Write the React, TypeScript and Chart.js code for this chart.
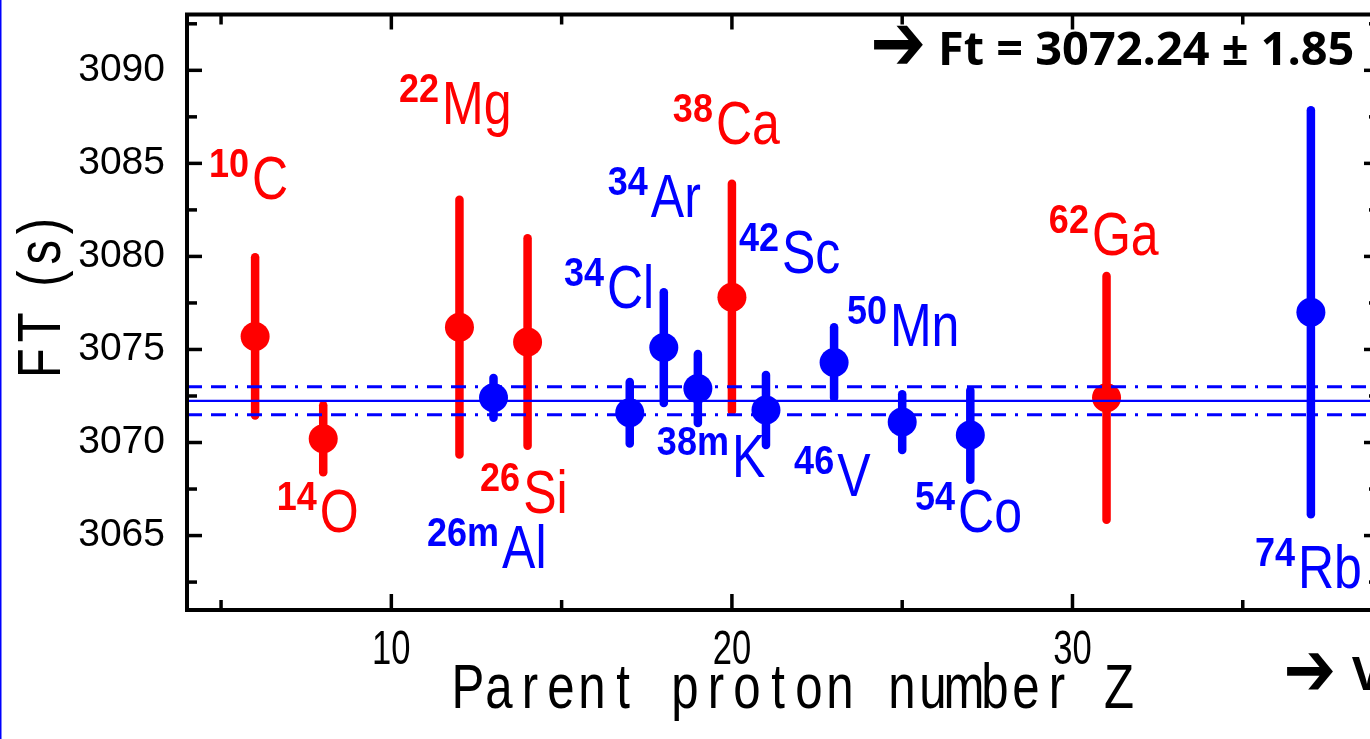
import React, { useEffect, useRef } from 'react';
import { Chart, registerables } from 'chart.js';

Chart.register(...registerables);

// ---------- axes ----------
const X_MIN = 4;
const X_MAX = 39;
const Y_MIN = 3061;
const Y_MAX = 3093;
const xMajorTicks = [10, 20, 30];
const xMinorTicks = [5, 15, 25, 35];
const yMajorTicks = [3065, 3070, 3075, 3080, 3085, 3090];
const yMinorTicks = [3062.5, 3067.5, 3072.5, 3077.5, 3082.5, 3087.5, 3092.5];

// ---------- red series ----------
const redZ = [6, 8, 12, 14, 20, 31];
const redFt = [3075.7, 3070.2, 3076.2, 3075.4, 3077.8, 3072.4];
const redErr = [4.25, 1.8, 6.85, 5.57, 6.1, 6.55];
const redMass = ['10', '14', '22', '26', '38', '62'];
const redSymbol = ['C', 'O', 'Mg', 'Si', 'Ca', 'Ga'];
const redLabelZ = [5.91, 7.9, 11.49, 13.87, 19.53, 30.57];
const redLabelFt = [3083.1, 3065.17, 3087.11, 3066.19, 3086.04, 3080.1];

// ---------- blue series ----------
const blueZ = [13, 17, 18, 19, 21, 23, 25, 27, 37];
const blueFt = [3072.4, 3071.6, 3075.1, 3072.9, 3071.75, 3074.3, 3071.1, 3070.4, 3077.0];
const blueErr = [1.07, 1.65, 2.97, 1.85, 1.88, 1.9, 1.5, 2.4, 10.86];
const blueMass = ['26m', '34', '34', '38m', '42', '46', '50', '54', '74'];
const blueSymbol = ['Al', 'Cl', 'Ar', 'K', 'Sc', 'V', 'Mn', 'Co', 'Rb'];
const blueLabelZ = [13.25, 16.33, 17.62, 20.0, 21.47, 23.09, 24.64, 26.64, 36.62];
const blueLabelFt = [3063.25, 3077.21, 3082.14, 3068.17, 3079.09, 3067.15, 3075.18, 3065.17, 3062.18];

// ---------- mean ----------
const meanFt = 3072.24;
const meanBand = 0.75;

// ---------- texts ----------
const resultText = 'Ft = 3072.24 ± 1.85';
const arrowText = '➔';
const cornerText = 'V';
const xTitle = 'Parent proton number Z';
const yTitle = 'FT (s)';

const RED = '#ff0000';
const BLUE = '#0000ff';
const STROKE_FONT = "'Liberation Sans', Arial, sans-serif";

function drawScaled(ctx: CanvasRenderingContext2D, text: string, x: number, y: number, font: string, sx: number, sy: number, align: CanvasTextAlign, color: string) {
  ctx.save();
  ctx.translate(x, y);
  ctx.scale(sx, sy);
  ctx.font = font;
  ctx.fillStyle = color;
  ctx.textAlign = align;
  ctx.textBaseline = 'alphabetic';
  ctx.fillText(text, 0, 0);
  ctx.restore();
}

function drawMono(ctx: CanvasRenderingContext2D, text: string, x0: number, y: number, advance: number, font: string, sx: number, sy: number, color: string) {
  for (let i = 0; i < text.length; i++) {
    const ch = text[i];
    if (ch === ' ') continue;
    drawScaled(ctx, ch, x0 + (i + 0.5) * advance, y, font, sx, sy, 'center', color);
  }
}

function drawTracked(ctx: CanvasRenderingContext2D, text: string, x0: number, y: number, font: string, sx: number, tracking: number, color: string) {
  ctx.save();
  ctx.font = font;
  let x = x0;
  for (let i = 0; i < text.length; i++) {
    const ch = text[i];
    const w = ctx.measureText(ch).width * sx;
    if (ch !== ' ') drawScaled(ctx, ch, x, y, font, sx, 1, 'left', color);
    x += w + tracking;
  }
  ctx.restore();
}

function fitText(ctx: CanvasRenderingContext2D, text: string, font: string, l: number, t: number, r: number, b: number, color: string) {
  ctx.save();
  ctx.font = font;
  ctx.textAlign = 'left';
  ctx.textBaseline = 'alphabetic';
  const m = ctx.measureText(text);
  const w = m.actualBoundingBoxLeft + m.actualBoundingBoxRight;
  const h = m.actualBoundingBoxAscent + m.actualBoundingBoxDescent;
  ctx.translate(l, t);
  ctx.scale((r - l) / w, (b - t) / h);
  ctx.fillStyle = color;
  ctx.fillText(text, m.actualBoundingBoxLeft, m.actualBoundingBoxAscent);
  ctx.restore();
}

const errorBarPlugin = {
  id: 'errorBars',
  beforeDatasetsDraw(chart: any) {
    const { ctx, scales } = chart;
    const xs = scales.x;
    const ys = scales.y;
    chart.data.datasets.forEach((ds: any) => {
      if (!ds.errors) return;
      ctx.save();
      ctx.strokeStyle = ds.backgroundColor;
      ctx.lineWidth = 8.5;
      ctx.lineCap = 'round';
      ds.data.forEach((p: any, i: number) => {
        const px = xs.getPixelForValue(p.x);
        ctx.beginPath();
        ctx.moveTo(px, ys.getPixelForValue(p.y + ds.errors[i]));
        ctx.lineTo(px, ys.getPixelForValue(p.y - ds.errors[i]));
        ctx.stroke();
      });
      ctx.restore();
    });
  },
};

function drawLabels(ctx: CanvasRenderingContext2D, xs: any, ys: any, mass: string[], sym: string[], lz: number[], lf: number[], color: string) {
  for (let i = 0; i < sym.length; i++) {
    const ex = xs.getPixelForValue(lz[i]);
    const ey = ys.getPixelForValue(lf[i]);
    drawScaled(ctx, sym[i], ex, ey, `61px ${STROKE_FONT}`, 0.82, 1, 'left', color);
    drawScaled(ctx, mass[i], ex - 3, ey - 22, `bold 40px ${STROKE_FONT}`, 0.9, 1, 'right', color);
  }
}

const decorPlugin = {
  id: 'decor',
  afterDatasetsDraw(chart: any) {
    const { ctx, chartArea, scales } = chart;
    const xs = scales.x;
    const ys = scales.y;
    const { left, right, top, bottom } = chartArea;

    // nuclide labels
    drawLabels(ctx, xs, ys, redMass, redSymbol, redLabelZ, redLabelFt, RED);
    drawLabels(ctx, xs, ys, blueMass, blueSymbol, blueLabelZ, blueLabelFt, BLUE);

    // frame
    ctx.save();
    ctx.strokeStyle = '#000';
    ctx.lineWidth = 4;
    ctx.strokeRect(left, top, right - left, bottom - top);
    ctx.lineWidth = 3.5;
    const seg = (x1: number, y1: number, x2: number, y2: number) => {
      ctx.beginPath();
      ctx.moveTo(x1, y1);
      ctx.lineTo(x2, y2);
      ctx.stroke();
    };
    xMajorTicks.forEach((v) => {
      const px = xs.getPixelForValue(v);
      seg(px, bottom, px, bottom - 16);
      seg(px, top, px, top + 15);
    });
    xMinorTicks.forEach((v) => {
      const px = xs.getPixelForValue(v);
      seg(px, bottom, px, bottom - 10);
      seg(px, top, px, top + 10);
    });
    yMajorTicks.forEach((v) => {
      const py = ys.getPixelForValue(v);
      seg(left, py, left + 15, py);
      seg(right, py, right - 15, py);
    });
    yMinorTicks.forEach((v) => {
      const py = ys.getPixelForValue(v);
      seg(left, py, left + 10, py);
      seg(right, py, right - 10, py);
    });
    ctx.restore();

    // x tick labels
    xs.ticks.forEach((t: any) => {
      drawScaled(ctx, String(t.value), xs.getPixelForValue(t.value), 664, `48px ${STROKE_FONT}`, 0.72, 1, 'center', '#000');
    });

    // axis titles
    drawMono(ctx, xTitle, 452.5, 708, 31, `63px ${STROKE_FONT}`, 0.78, 1, '#000');
    ctx.save();
    ctx.translate(60, 378);
    ctx.rotate(-Math.PI / 2);
    drawTracked(ctx, yTitle, 0, 0, `61px ${STROKE_FONT}`, 0.8, 6, '#000');
    ctx.restore();

    // result annotation
    const boldFont = "bold 48px 'Open Sans', 'DejaVu Sans', sans-serif";
    fitText(ctx, arrowText, "bold 48px 'DejaVu Sans', sans-serif", 873, 25, 923, 65, '#000');
    fitText(ctx, resultText, boldFont, 942, 30, 1353, 65, '#000');
    fitText(ctx, arrowText, "bold 48px 'DejaVu Sans', sans-serif", 1286, 652, 1333, 690, '#000');
    drawScaled(ctx, cornerText, 1352, 690, "bold 46px 'Open Sans', sans-serif", 1, 1, 'left', '#000');

    // left border line of the page
    ctx.fillStyle = BLUE;
    ctx.fillRect(0, 0, 1.5, chart.height);
  },
};

function lineDataset(y: number, dashed: boolean) {
  return {
    type: 'line' as const,
    data: [
      { x: X_MIN, y },
      { x: X_MAX, y },
    ],
    borderColor: BLUE,
    borderWidth: dashed ? 3 : 2.3,
    borderDash: dashed ? [15, 9, 15, 9, 3, 9] : [],
    pointRadius: 0,
    showLine: true,
    fill: false,
    order: 0,
  };
}

export default function App() {
  const ref = useRef<HTMLCanvasElement>(null);

  useEffect(() => {
    if (!ref.current) return;
    const chart = new Chart(ref.current, {
      type: 'scatter',
      data: {
        datasets: [
          lineDataset(meanFt, false),
          lineDataset(meanFt + meanBand, true),
          lineDataset(meanFt - meanBand, true),
          {
            data: redZ.map((z, i) => ({ x: z, y: redFt[i] })),
            errors: redErr,
            backgroundColor: RED,
            borderWidth: 0,
            pointRadius: 14.5,
            pointHoverRadius: 14.5,
            order: 1,
          } as any,
          {
            data: blueZ.map((z, i) => ({ x: z, y: blueFt[i] })),
            errors: blueErr,
            backgroundColor: BLUE,
            borderWidth: 0,
            pointRadius: 14.5,
            pointHoverRadius: 14.5,
            order: 1,
          } as any,
        ],
      },
      options: {
        responsive: false,
        animation: false,
        devicePixelRatio: 1,
        events: [],
        layout: { padding: { left: 0, top: 12, right: 21, bottom: 0 } },
        plugins: { legend: { display: false }, tooltip: { enabled: false } },
        scales: {
          x: {
            type: 'linear',
            min: X_MIN,
            max: X_MAX,
            grid: { display: false },
            border: { display: false },
            ticks: { display: false },
            afterBuildTicks: (s: any) => {
              s.ticks = xMajorTicks.map((v) => ({ value: v }));
            },
            afterFit: (s: any) => {
              s.height = 129;
              s.paddingLeft = 0;
              s.paddingRight = 0;
            },
          },
          y: {
            type: 'linear',
            min: Y_MIN,
            max: Y_MAX,
            grid: { display: false, drawTicks: false },
            border: { display: false },
            ticks: {
              color: '#000',
              padding: 22,
              font: { family: STROKE_FONT, size: 39 },
              callback: (v: any) => String(v),
            },
            afterBuildTicks: (s: any) => {
              s.ticks = yMajorTicks.map((v) => ({ value: v }));
            },
            afterFit: (s: any) => {
              s.width = 187;
              s.paddingTop = 0;
              s.paddingBottom = 0;
            },
          },
        },
      } as any,
      plugins: [errorBarPlugin, decorPlugin],
    });
    return () => chart.destroy();
  }, []);

  return (
    <div
      style={{
        position: 'fixed',
        left: 0,
        top: 0,
        width: 1370,
        height: 739,
        overflow: 'hidden',
        background: '#fff',
      }}
    >
      <canvas ref={ref} width={1400} height={739} style={{ display: 'block' }} />
    </div>
  );
}
